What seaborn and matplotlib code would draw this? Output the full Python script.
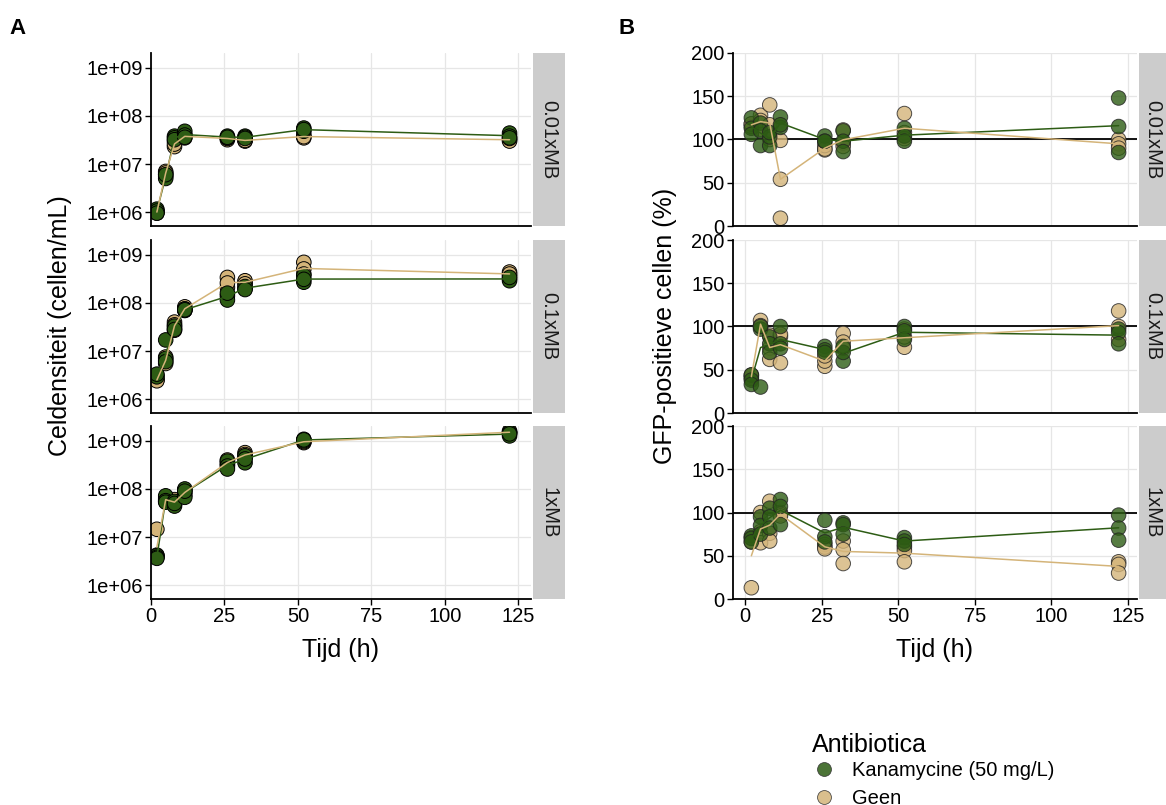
import pandas as pd
import matplotlib.pyplot as plt
import seaborn as sns
from matplotlib.lines import Line2D
from matplotlib.ticker import FixedLocator, NullLocator

sns.set_style('white')
plt.rcParams['font.family'] = ['Liberation Sans', 'DejaVu Sans']
plt.rcParams['text.color'] = 'black'

times = [2, 5, 8, 11.5, 26, 32, 52, 122]
media = ['0.01xMB', '0.1xMB', '1xMB']
antibiotics = ['Kanamycine (50 mg/L)', 'Geen']
colors = ['#2d5c14', '#d4b479']

# celdensiteit (cellen/mL), 3 replicaten per tijdspunt
dens_001_kan = [[1.15e6, 1.05e6, 0.95e6], [5.5e6, 5.0e6, 6.0e6], [3.8e7, 3.5e7, 3.2e7], [4.8e7, 4.0e7, 3.6e7],
                [3.8e7, 3.5e7, 3.6e7], [3.8e7, 3.6e7, 3.4e7], [5.6e7, 4.8e7, 5.2e7], [4.4e7, 3.8e7, 3.5e7]]
dens_001_geen = [[1.0e6, 0.95e6, 1.05e6], [7.0e6, 6.0e6, 6.5e6], [2.3e7, 3.0e7, 2.6e7], [3.5e7, 4.0e7, 3.8e7],
                 [3.2e7, 3.4e7, 3.6e7], [3.0e7, 3.2e7, 3.1e7], [3.5e7, 4.0e7, 3.7e7], [3.2e7, 3.0e7, 3.4e7]]
dens_01_kan = [[3.1e6, 2.9e6, 3.3e6], [1.7e7, 7.0e6, 6.0e6], [3.0e7, 3.3e7, 2.8e7], [7.0e7, 7.5e7, 7.2e7],
               [1.4e8, 1.15e8, 1.6e8], [2.0e8, 2.2e8, 1.9e8], [3.7e8, 2.7e8, 3.1e8], [3.2e8, 2.9e8, 3.4e8]]
dens_01_geen = [[2.5e6, 2.6e6, 2.4e6], [7.5e6, 5.5e6, 6.4e6], [4.0e7, 2.7e7, 3.5e7], [8.3e7, 7.0e7, 7.5e7],
                [3.4e8, 2.1e8, 2.6e8], [2.7e8, 2.9e8, 2.5e8], [7.0e8, 5.1e8, 4.0e8], [4.4e8, 3.7e8, 4.0e8]]
dens_1_kan = [[4.1e6, 3.8e6, 3.6e6], [7.2e7, 5.7e7, 5.3e7], [4.4e7, 5.5e7, 5.0e7], [1.0e8, 6.7e7, 9.0e7],
              [3.8e8, 3.0e8, 2.6e8], [4.9e8, 3.5e8, 4.2e8], [1.08e9, 1.0e9, 1.05e9], [1.5e9, 1.27e9, 1.4e9]]
dens_1_geen = [[1.45e7, 3.9e6, 4.2e6], [6.0e7, 5.5e7, 6.5e7], [6.0e7, 5.2e7, 4.8e7], [8.5e7, 7.5e7, 9.5e7],
               [3.5e8, 4.0e8, 3.2e8], [5.7e8, 5.2e8, 4.5e8], [9.2e8, 1.0e9, 9.6e8], [1.6e9, 1.5e9, 1.45e9]]

# GFP-positieve cellen (%)
gfp_001_kan = [[125, 113, 106], [93, 119, 110], [93, 103, 108], [126, 114, 117],
               [104, 98, 98], [110, 98, 86], [113, 104, 98], [148, 85, 115]]
gfp_001_geen = [[118, 115, 118], [128, 112, 122], [140, 117, 100], [99, 54, 9],
                [88, 93, 89], [96, 92, 111], [130, 108, 101], [100, 95, 90]]
gfp_01_kan = [[44, 38, 33], [30, 97, 100], [88, 80, 70], [100, 80, 75],
              [77, 73, 70], [60, 70, 77], [100, 95, 85], [97, 93, 80]]
gfp_01_geen = [[42, 40, 44], [107, 100, 101], [90, 75, 62], [88, 58, 91],
               [54, 60, 66], [92, 82, 75], [76, 88, 97], [118, 85, 100]]
gfp_1_kan = [[73, 70, 66], [95, 85, 75], [105, 95, 82], [115, 107, 86],
             [91, 72, 66], [88, 86, 75], [71, 67, 63], [97, 82, 68]]
gfp_1_geen = [[13, 66, 71], [100, 78, 65], [113, 76, 67], [100, 98, 96],
              [63, 60, 58], [67, 57, 41], [60, 56, 43], [43, 40, 30]]

dens = {'0.01xMB': [dens_001_kan, dens_001_geen], '0.1xMB': [dens_01_kan, dens_01_geen],
        '1xMB': [dens_1_kan, dens_1_geen]}
gfp = {'0.01xMB': [gfp_001_kan, gfp_001_geen], '0.1xMB': [gfp_01_kan, gfp_01_geen],
       '1xMB': [gfp_1_kan, gfp_1_geen]}

rows = []
for m in media:
    # Geen first so the kanamycine points end up on top
    for k in [1, 0]:
        for t, dv, gv in zip(times, dens[m][k], gfp[m][k]):
            for d, g in zip(dv, gv):
                rows.append({'Medium': m, 'Antibiotica': antibiotics[k], 'Tijd': t, 'Dens': d, 'GFP': g})
df = pd.DataFrame(rows)

W, H = 1166, 805
fig = plt.figure(figsize=(W / 100, H / 100), dpi=100)


def px_axes(x0, y0, x1, y1):
    return fig.add_axes([x0 / W, 1 - y1 / H, (x1 - x0) / W, (y1 - y0) / H])


row_px = [(53, 226), (240, 413), (426, 599)]
tick_fs = 14.5
title_fs = 18
grid_c = '#e6e6e6'


def style_axes(ax, bottom):
    for s in ['top', 'right']:
        ax.spines[s].set_visible(False)
    for s in ['left', 'bottom']:
        ax.spines[s].set_color('black')
        ax.spines[s].set_linewidth(1.3)
    ax.set_xticks([0, 25, 50, 75, 100, 125])
    ax.grid(True, color=grid_c, lw=0.9)
    ax.set_axisbelow(True)
    ax.tick_params(axis='both', labelsize=tick_fs, colors='black', length=4, width=1.0, pad=2, direction='out')
    ax.tick_params(axis='y', left=True)
    if bottom:
        ax.tick_params(axis='x', bottom=True)
    else:
        ax.tick_params(axis='x', bottom=False, labelbottom=False)
    ax.set_xlabel('')
    ax.set_ylabel('')


def strip(x0, x1, y0, y1, label):
    sax = px_axes(x0, y0, x1, y1)
    sax.set_facecolor('#cccccc')
    sax.set_xticks([])
    sax.set_yticks([])
    for s in sax.spines.values():
        s.set_visible(False)
    sax.text(0.5, 0.5, label, rotation=-90, ha='center', va='center', transform=sax.transAxes,
             fontsize=tick_fs, color='#1a1a1a')


# A: celdensiteit
for i, m in enumerate(media):
    y0, y1 = row_px[i]
    ax = px_axes(151, y0, 531, y1)
    sub = df[df['Medium'] == m]
    ax.set_yscale('log')
    sns.scatterplot(data=sub, x='Tijd', y='Dens', hue='Antibiotica', hue_order=antibiotics, palette=colors,
                    s=110, edgecolor='black', linewidth=0.7, legend=False, ax=ax, zorder=2)
    sns.lineplot(data=sub, x='Tijd', y='Dens', hue='Antibiotica', hue_order=antibiotics, palette=colors,
                 estimator='mean', errorbar=None, lw=1.1, legend=False, ax=ax, zorder=3)
    ax.set_xlim(0, 129.3)
    ax.set_ylim(10 ** 5.71, 10 ** 9.31)
    ax.yaxis.set_major_locator(FixedLocator([1e6, 1e7, 1e8, 1e9]))
    ax.yaxis.set_minor_locator(NullLocator())
    ax.set_yticklabels(['1e+06', '1e+07', '1e+08', '1e+09'])
    style_axes(ax, i == 2)
    strip(533, 565, y0, y1, m)

# B: GFP-positieve cellen
for i, m in enumerate(media):
    y0, y1 = row_px[i]
    ax = px_axes(733, y0, 1137, y1)
    sub = df[df['Medium'] == m]
    ax.axhline(100, color='black', lw=1.3, zorder=1.5)
    sns.scatterplot(data=sub, x='Tijd', y='GFP', hue='Antibiotica', hue_order=antibiotics, palette=colors,
                    s=110, alpha=0.8, edgecolor='#222222', linewidth=0.7, legend=False, ax=ax, zorder=2)
    sns.lineplot(data=sub, x='Tijd', y='GFP', hue='Antibiotica', hue_order=antibiotics, palette=colors,
                 estimator='mean', errorbar=None, lw=1.1, legend=False, ax=ax, zorder=3)
    ax.set_xlim(-4, 128)
    ax.set_ylim(0, 200)
    ax.set_yticks([0, 50, 100, 150, 200])
    style_axes(ax, i == 2)
    strip(1139, 1166, y0, y1, m)

fig.text(341 / W, 1 - 650 / H, 'Tijd (h)', ha='center', va='center', fontsize=title_fs)
fig.text(935 / W, 1 - 650 / H, 'Tijd (h)', ha='center', va='center', fontsize=title_fs)
fig.text(60 / W, 1 - 326 / H, 'Celdensiteit (cellen/mL)', ha='center', va='center', rotation=90, fontsize=title_fs)
fig.text(665 / W, 1 - 326 / H, 'GFP-positieve cellen (%)', ha='center', va='center', rotation=90, fontsize=title_fs)
fig.text(18 / W, 1 - 28 / H, 'A', ha='center', va='center', fontsize=16, fontweight='bold')
fig.text(627 / W, 1 - 28 / H, 'B', ha='center', va='center', fontsize=16, fontweight='bold')

# legend: title as separate text for tighter control
fig.text(812 / W, 1 - 745 / H, 'Antibiotica', ha='left', va='center', fontsize=title_fs)
handles = [Line2D([], [], ls='', marker='o', markersize=10, markerfacecolor=c, alpha=0.85,
                  markeredgecolor='#333333', markeredgewidth=0.6) for c in colors]
fig.legend(handles, antibiotics, loc='upper left', bbox_to_anchor=(804 / W, 1 - 761 / H),
           frameon=False, fontsize=tick_fs, handletextpad=0.4, handlelength=2.0,
           labelspacing=0.45, borderaxespad=0, borderpad=0)

fig.savefig('out.png', dpi=100)
